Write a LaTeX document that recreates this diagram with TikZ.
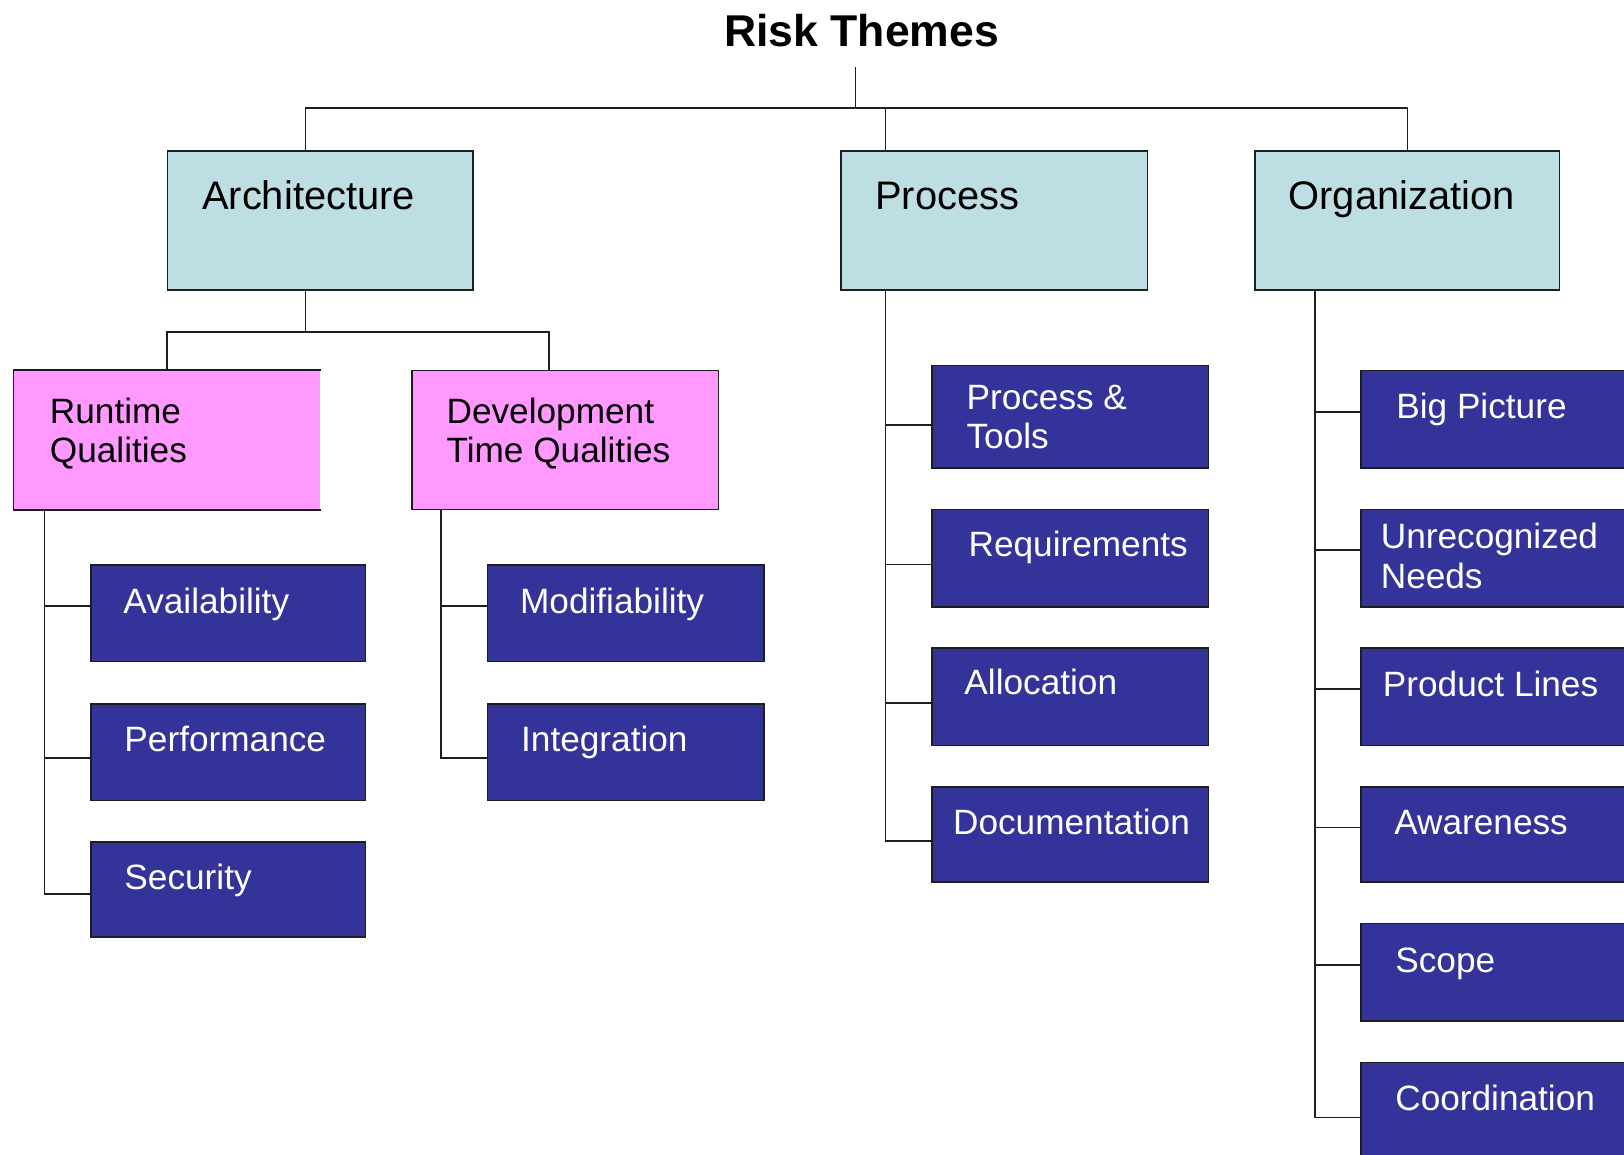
\documentclass[tikz,border=0pt]{standalone}
\usepackage{fontspec}
\setmainfont{Liberation Sans}
\usetikzlibrary{calc}

\definecolor{themefill}{RGB}{189,223,227}
\definecolor{qualfill}{RGB}{255,153,255}
\definecolor{leaffill}{RGB}{51,51,153}
\definecolor{edgecol}{RGB}{30,30,30}

\tikzset{
  conn/.style={draw=edgecol, line width=1.8pt},
  boxbase/.style={rectangle, anchor=north west, inner sep=0pt, line width=1.6pt, draw=edgecol},
  themebox/.style={boxbase, fill=themefill, minimum width=295pt, minimum height=134pt},
  qualbox/.style={boxbase, fill=qualfill, minimum width=295pt, minimum height=134pt},
  leafbox/.style={boxbase, fill=leaffill, minimum width=267pt, minimum height=94pt},
  themetext/.style={anchor=base west, inner sep=0pt, text=black, font=\fontsize{38.5}{44}\selectfont},
  qualtext/.style={anchor=base west, inner sep=0pt, text=black, align=left, font=\fontsize{34}{38}\selectfont},
  leaftext/.style={anchor=base west, inner sep=0pt, text=white, align=left, font=\fontsize{34}{38}\selectfont},
  titletext/.style={anchor=base, inner sep=0pt, font=\fontsize{43}{50}\selectfont\bfseries}
}

\begin{document}
\begin{tikzpicture}[x=1pt, y=-1pt]
\useasboundingbox (0,0) rectangle (1568,1115);
\clip (0,0) rectangle (1568,1115);

% title
\node[titletext] (title) at (832,45) {Risk Themes};
\coordinate (rootfoot) at (826,65);
\coordinate (bus) at (826,104);

% top-level themes
\node[themebox] (arch) at (161,145) {};
\node[themebox, minimum width=296pt] (proc) at (811,145) {};
\node[themebox, minimum width=294pt] (org) at (1211,145) {};
\node[themetext] (archT) at ($(arch.north west)+(34,57)$) {Architecture};
\node[themetext] (procT) at ($(proc.north west)+(34,57)$) {Process};
\node[themetext] (orgT) at ($(org.north west)+(33,57)$) {Organization};

% quality groups under Architecture (multi-line labels sit on their last baseline)
\node[qualbox, draw=none] (rtq) at (13,357) {};
\draw[line width=1.6pt, draw=edgecol] (rtq.north east) -- (rtq.north west) -- (rtq.south west) -- (rtq.south east);
\node[qualbox, minimum width=296pt] (dtq) at (397,357) {};
\node[qualtext] (rtqT) at ($(rtq.north west)+(35,90)$) {Runtime\\Qualities};
\node[qualtext] (dtqT) at ($(dtq.north west)+(34,90)$) {Development\\Time Qualities};

% runtime qualities
\node[leafbox, minimum width=265pt, minimum height=93pt] (avail) at (87,545) {};
\node[leafbox, minimum width=265pt, minimum height=93pt] (perf) at (87,679) {};
\node[leafbox, minimum width=265pt, minimum height=92pt] (sec) at (87,812) {};
\node[leaftext] at ($(avail.north west)+(32,47)$) {Availability};
\node[leaftext] at ($(perf.north west)+(33,47)$) {Performance};
\node[leaftext] at ($(sec.north west)+(33,47)$) {Security};

% development time qualities
\node[leafbox, minimum height=93pt] (mod) at (470,545) {};
\node[leafbox, minimum height=93pt] (integ) at (470,679) {};
\node[leaftext] at ($(mod.north west)+(32,47)$) {Modifiability};
\node[leaftext] at ($(integ.north west)+(33,47)$) {Integration};

% process themes
\node[leafbox, minimum height=99pt] (pt) at (899,352) {};
\node[leafbox] (req) at (899,491) {};
\node[leafbox] (alloc) at (899,625) {};
\node[leafbox, minimum height=92pt] (doc) at (899,759) {};
\node[leaftext] at ($(pt.north west)+(34,81)$) {Process \&\\Tools};
\node[leaftext] at ($(req.north west)+(36,46)$) {Requirements};
\node[leaftext] at ($(alloc.north west)+(32,46)$) {Allocation};
\node[leaftext] at ($(doc.north west)+(21,47)$) {Documentation};

% organization themes
\node[leafbox, minimum width=300pt] (big) at (1313,357) {};
\node[leafbox, minimum width=300pt] (unrec) at (1313,491) {};
\node[leafbox, minimum width=300pt] (prod) at (1313,625) {};
\node[leafbox, minimum width=300pt, minimum height=92pt] (aware) at (1313,759) {};
\node[leafbox, minimum width=300pt] (scope) at (1313,891) {};
\node[leafbox, minimum width=300pt, minimum height=120pt] (coord) at (1313,1025) {};
\node[leaftext] at ($(big.north west)+(35,47)$) {Big Picture};
\node[leaftext] at ($(unrec.north west)+(20,77)$) {Unrecognized\\Needs};
\node[leaftext] at ($(prod.north west)+(22,47)$) {Product Lines};
\node[leaftext] at ($(aware.north west)+(33,47)$) {Awareness};
\node[leaftext] at ($(scope.north west)+(34,48)$) {Scope};
\node[leaftext] at ($(coord.north west)+(34,47)$) {Coordination};

% branch points on the left side of each leaf
\foreach \b/\dy in {avail/40, perf/53, sec/51, mod/40, integ/53,
                    pt/58, req/54, alloc/54, doc/53,
                    big/41, unrec/40, prod/40, aware/40, scope/41, coord/54}
  \coordinate (\b-in) at ($(\b.north west)+(0,\dy)$);

% connectors: root to themes
\draw[conn] (rootfoot) -- (bus);
\coordinate (archtop) at ($(arch.north west)+(134,0)$);
\coordinate (proctop) at ($(proc.north west)+(44,0)$);
\coordinate (orgtop) at ($(org.north west)+(148,0)$);
\draw[conn] (archtop) |- (bus) -| (orgtop);
\draw[conn] (proctop) -- (proctop |- bus);

% Architecture to quality groups
\coordinate (archbot) at ($(arch.south west)+(134,0)$);
\coordinate (abus) at ($(archbot)+(0,40)$);
\coordinate (rtqtop) at ($(rtq.north west)+(148,0)$);
\coordinate (dtqtop) at ($(dtq.north west)+(133,0)$);
\draw[conn] (archbot) -- (abus);
\draw[conn] (rtqtop) |- (abus) -| (dtqtop);

% trunks
\coordinate (rtrunk) at ($(rtq.south west)+(30,0)$);
\coordinate (dtrunk) at ($(dtq.south west)+(29,0)$);
\coordinate (ptrunk) at ($(proc.south west)+(44,0)$);
\coordinate (otrunk) at ($(org.south west)+(59,0)$);

\draw[conn] (rtrunk) |- (sec-in);
\foreach \b in {avail, perf} \draw[conn] (rtrunk |- \b-in) -- (\b-in);

\draw[conn] (dtrunk) |- (integ-in);
\draw[conn] (dtrunk |- mod-in) -- (mod-in);

\draw[conn] (ptrunk) |- (doc-in);
\foreach \b in {pt, req, alloc} \draw[conn] (ptrunk |- \b-in) -- (\b-in);

\draw[conn] (otrunk) |- (coord-in);
\foreach \b in {big, unrec, prod, aware, scope} \draw[conn] (otrunk |- \b-in) -- (\b-in);
\end{tikzpicture}
\end{document}
